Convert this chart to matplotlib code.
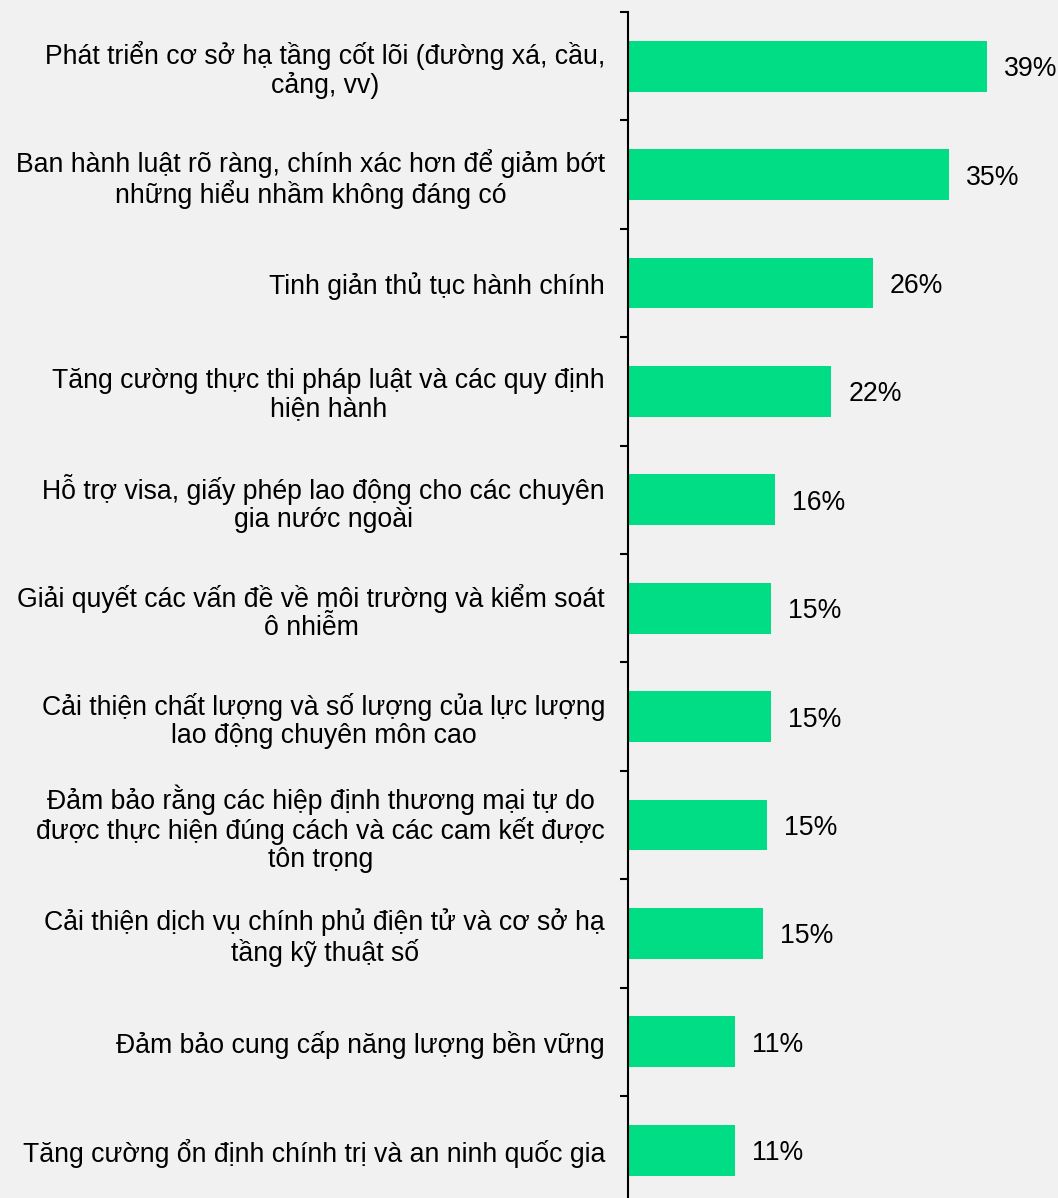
import matplotlib.pyplot as plt

# du lieu (doc tu hinh)
labels = [
    "Phát triển cơ sở hạ tầng cốt lõi (đường xá, cầu,\ncảng, vv)",
    "Ban hành luật rõ ràng, chính xác hơn để giảm bớt\nnhững hiểu nhầm không đáng có",
    "Tinh giản thủ tục hành chính",
    "Tăng cường thực thi pháp luật và các quy định\nhiện hành",
    "Hỗ trợ visa, giấy phép lao động cho các chuyên\ngia nước ngoài",
    "Giải quyết các vấn đề về môi trường và kiểm soát\nô nhiễm",
    "Cải thiện chất lượng và số lượng của lực lượng\nlao động chuyên môn cao",
    "Đảm bảo rằng các hiệp định thương mại tự do\nđược thực hiện đúng cách và các cam kết được\ntôn trọng",
    "Cải thiện dịch vụ chính phủ điện tử và cơ sở hạ\ntầng kỹ thuật số",
    "Đảm bảo cung cấp năng lượng bền vững",
    "Tăng cường ổn định chính trị và an ninh quốc gia",
]
values = [39.0, 34.9, 26.6, 22.1, 16.0, 15.5, 15.5, 15.1, 14.7, 11.6, 11.6]
value_labels = ["39%", "35%", "26%", "22%", "16%", "15%", "15%", "15%", "15%", "11%", "11%"]

bg = '#f1f1f1'
green = '#00dd84'
plt.rcParams['font.family'] = ['Liberation Sans', 'DejaVu Sans']
fs = 19.2

W, H = 1058, 1198
fig = plt.figure(figsize=(W/100, H/100), dpi=100, facecolor=bg)
top = 12
step = 108.4
n = len(labels)
bottom = top + step*n
ax = fig.add_axes([628/W, 1 - bottom/H, 1 - 628/W, step*n/H])
ax.set_facecolor(bg)

y = list(range(n))
ax.barh(y, values, height=0.47, color=green)
ax.set_xlim(0, 46.7)
ax.set_ylim(n - 0.5, -0.5)

for sp in ['top', 'right', 'bottom']:
    ax.spines[sp].set_visible(False)
ax.spines['left'].set_linewidth(1.5)
ax.spines['left'].set_color('#000000')

ax.set_xticks([])
ax.set_yticks(y)
ax.set_yticklabels(labels, fontsize=fs, color='#000000')
for t in ax.get_yticklabels():
    t.set_multialignment('center')
    t.set_linespacing(1.1)
ax.tick_params(axis='y', which='major', length=0, pad=16.5)
ax.set_yticks([i - 0.5 for i in range(n + 1)], minor=True)
ax.tick_params(axis='y', which='minor', length=6, width=1.5, color='#000000')

for i, v in enumerate(values):
    ax.annotate(value_labels[i], (v, i), xytext=(17, -3), textcoords='offset pixels',
                ha='left', va='center', fontsize=fs, color='#000000')

fig.savefig('out.png', dpi=100, facecolor=bg)
